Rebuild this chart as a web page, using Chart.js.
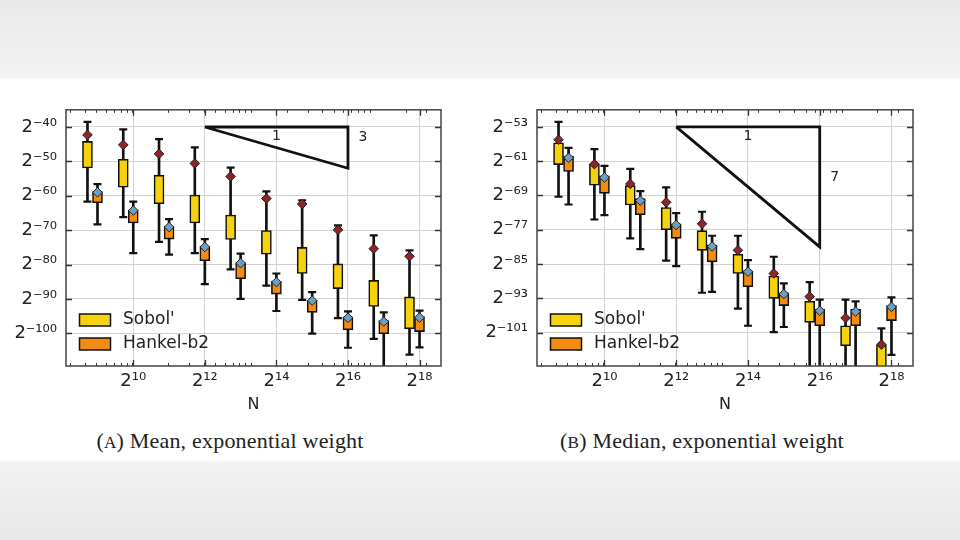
<!DOCTYPE html>
<html>
<head>
<meta charset="utf-8">
<script src="https://cdn.jsdelivr.net/npm/chart.js@4.4.1/dist/chart.umd.min.js"></script>
<style>
  html, body { margin: 0; padding: 0; }
  body {
    width: 960px; height: 540px; position: relative; overflow: hidden;
    background: linear-gradient(to bottom, #e9e9e9 0px, #f3f3f3 78px, #ffffff 80px, #ffffff 460px, #f2f2f2 462px, #e8e8e8 540px);
  }
  .panel { position: absolute; top: 90px; width: 480px; height: 330px; }
  .caption {
    position: absolute; top: 428px; width: 480px; text-align: center;
    font-family: "Liberation Serif", serif; font-size: 22px; letter-spacing: 0.2px; color: #222;
  }
  .caption .sc { font-size: 0.78em; }
</style>
</head>
<body>
<div class="panel" style="left:0px"><canvas id="meanChart"></canvas></div>
<div class="panel" style="left:480px"><canvas id="medianChart"></canvas></div>
<div class="caption" style="left:-10px">(<span class="sc">A</span>) Mean, exponential weight</div>
<div class="caption" style="left:462px">(<span class="sc">B</span>) Median, exponential weight</div>

<script>
// log2(N) for each box pair
const exps = [9, 10, 11, 12, 13, 14, 15, 16, 17, 18];
const seriesNames = ["Sobol'", 'Hankel-b2'];
const xTicks = [10, 12, 14, 16, 18];

// (A) mean -- values are log2 of the error
const meanTicks = [-40, -50, -60, -70, -80, -90, -100];
const meanSobolHi   = [-38.5, -40.7, -43.5, -45.9, -51.8, -58.7, -61.3, -68.6, -71.5, -75.9];
const meanSobolQ3   = [-44.2, -49.4, -54.0, -59.8, -65.6, -70.1, -75.0, -79.8, -84.6, -89.4];
const meanSobolQ1   = [-51.9, -57.5, -62.3, -67.9, -72.7, -77.0, -82.6, -87.0, -92.2, -98.7];
const meanSobolLo   = [-61.7, -66.2, -73.4, -76.7, -81.4, -86.1, -90.3, -95.6, -101.6, -106.2];
const meanSobolAvg  = [-42.3, -45.2, -47.8, -50.6, -54.4, -60.8, -62.4, -69.9, -75.4, -77.6];
const meanHankelHi  = [-56.6, -61.7, -66.8, -72.6, -76.8, -82.6, -88.0, -93.6, -93.9, -93.4];
const meanHankelQ3  = [-58.8, -64.1, -68.9, -74.7, -79.4, -84.9, -90.3, -95.2, -96.3, -95.1];
const meanHankelQ1  = [-62.0, -67.9, -72.6, -78.9, -84.1, -88.6, -93.9, -99.0, -100.1, -99.5];
const meanHankelLo  = [-68.3, -76.7, -77.1, -85.7, -90.0, -93.5, -100.1, -104.2, -112.0, -104.1];
const meanHankelAvg = [-59.0, -64.3, -69.1, -74.9, -79.6, -85.1, -90.5, -95.5, -96.6, -95.4];
const meanSlopeX = [12, 16, 16, 12];
const meanSlopeY = [-40, -40, -52, -40];
const meanSlopeText = ['1', '3'];

// (B) median
const medTicks = [-53, -61, -69, -77, -85, -93, -101];
const medSobolHi   = [-51.8, -58.2, -62.8, -67.1, -72.8, -78.4, -83.3, -89.2, -93.3, -100.0];
const medSobolQ3   = [-56.7, -61.6, -66.7, -71.8, -77.2, -82.7, -87.8, -93.7, -99.4, -103.9];
const medSobolQ1   = [-61.8, -66.6, -71.2, -77.0, -81.8, -87.2, -93.0, -98.6, -104.1, -110.5];
const medSobolLo   = [-69.3, -74.6, -79.0, -84.2, -91.7, -95.4, -100.9, -112.0, -112.0, -115.0];
const medSobolAvg  = [-56.0, -61.7, -66.3, -70.6, -75.6, -81.8, -87.2, -92.6, -97.6, -103.8];
const medHankelHi  = [-57.9, -62.1, -68.0, -73.1, -78.4, -84.1, -89.5, -93.3, -93.7, -92.8];
const medHankelQ3  = [-59.8, -64.4, -69.7, -75.6, -80.6, -86.6, -91.7, -95.6, -95.6, -94.7];
const medHankelQ1  = [-63.4, -68.5, -73.5, -79.0, -84.5, -90.3, -94.7, -99.4, -99.4, -98.2];
const medHankelLo  = [-71.1, -73.6, -81.5, -85.5, -91.5, -99.4, -99.7, -112.0, -112.0, -106.2];
const medHankelAvg = [-60.2, -64.8, -70.2, -75.9, -80.9, -86.8, -92.0, -95.9, -96.1, -95.0];
const medSlopeX = [12, 16, 16, 12];
const medSlopeY = [-53, -53, -81, -53];
const medSlopeText = ['1', '7'];

const SUP = { '-': '\u207B', '0': '\u2070', '1': '\u00B9', '2': '\u00B2', '3': '\u00B3', '4': '\u2074',
              '5': '\u2075', '6': '\u2076', '7': '\u2077', '8': '\u2078', '9': '\u2079' };
const pow2 = v => '2' + String(v).split('').map(c => SUP[c]).join('');

const FONT = 'DejaVu Sans';
const colors = [
  { box: '#f6d20c', mean: '#8e2424' },
  { box: '#f38c10', mean: '#6b9fc6' }
];
const dodge = [-0.28, 0];

// frame, inward ticks, minor ticks on N axis, slope labels and legend
const decorations = {
  id: 'decorations',
  afterDatasetsDraw(chart, args, opts) {
    const { ctx, chartArea: a, scales: { x, y } } = chart;
    ctx.save();
    ctx.strokeStyle = '#333';
    ctx.lineWidth = 1;
    // minor ticks: matplotlib puts them at m*10^p on a log axis
    for (let p = 2; p <= 5; p++) {
      for (let m = 1; m <= 9; m++) {
        const v = Math.log2(m * Math.pow(10, p));
        if (v < x.min || v > x.max) continue;
        const px = Math.round(x.getPixelForValue(v)) + 0.5;
        ctx.beginPath();
        ctx.moveTo(px, a.bottom); ctx.lineTo(px, a.bottom - 3);
        ctx.moveTo(px, a.top); ctx.lineTo(px, a.top + 3);
        ctx.stroke();
      }
    }
    ctx.lineWidth = 1.3;
    xTicks.forEach(v => {
      const px = Math.round(x.getPixelForValue(v)) + 0.5;
      ctx.beginPath();
      ctx.moveTo(px, a.bottom); ctx.lineTo(px, a.bottom - 6);
      ctx.moveTo(px, a.top); ctx.lineTo(px, a.top + 6);
      ctx.stroke();
    });
    opts.yTicks.forEach(v => {
      const py = Math.round(y.getPixelForValue(v)) + 0.5;
      ctx.beginPath();
      ctx.moveTo(a.left, py); ctx.lineTo(a.left + 6, py);
      ctx.moveTo(a.right, py); ctx.lineTo(a.right - 6, py);
      ctx.stroke();
    });
    ctx.lineWidth = 1.5;
    ctx.strokeStyle = '#444';
    ctx.strokeRect(a.left, a.top, a.right - a.left, a.bottom - a.top);

    // slope triangle labels
    const sx = opts.slopeX, sy = opts.slopeY;
    ctx.fillStyle = '#222';
    ctx.font = '14px "' + FONT + '"';
    ctx.textAlign = 'center';
    ctx.textBaseline = 'middle';
    const midX = (sx[0] + sx[1]) / 2;
    ctx.fillText(opts.slopeText[0], x.getPixelForValue(midX), y.getPixelForValue(sy[0]) + 9);
    ctx.fillText(opts.slopeText[1], x.getPixelForValue(sx[1]) + 15, y.getPixelForValue((sy[1] + sy[2]) / 2) - 10);

    // legend, lower left inside the axes
    ctx.font = '17px "' + FONT + '"';
    ctx.textAlign = 'left';
    seriesNames.forEach((name, i) => {
      const top = a.bottom - 52 + i * 24;
      ctx.fillStyle = colors[i].box;
      ctx.fillRect(a.left + 13.5, top, 31, 12);
      ctx.strokeStyle = '#111';
      ctx.lineWidth = 1.5;
      ctx.strokeRect(a.left + 13.5, top, 31, 12);
      ctx.fillStyle = '#222';
      ctx.fillText(name, a.left + 57, top + 6);
    });
    ctx.restore();
  }
};

function boxDatasets(hi, q3, q1, lo, avg, s) {
  const pos = exps.map(k => k + dodge[s]);
  return [
    { type: 'bar', label: seriesNames[s] + ' whisker', grouped: false, order: 5, clip: 0,
      data: pos.map((p, i) => ({ x: p, y: [lo[i], hi[i]] })),
      backgroundColor: '#111', barThickness: 2, borderWidth: 0 },
    { type: 'scatter', label: seriesNames[s] + ' caps', order: 5, clip: 0,
      data: pos.flatMap((p, i) => [{ x: p, y: hi[i] }, { x: p, y: lo[i] }]),
      pointStyle: 'line', pointRadius: 4, borderColor: '#111', borderWidth: 2.2 },
    { type: 'bar', label: seriesNames[s], grouped: false, order: 3, clip: 0,
      data: pos.map((p, i) => ({ x: p, y: [q1[i], q3[i]] })),
      backgroundColor: colors[s].box, borderColor: '#111', borderWidth: 1.6,
      borderSkipped: false, barThickness: 10 },
    { type: 'scatter', label: seriesNames[s] + ' mean', order: 1, clip: 0,
      data: pos.map((p, i) => ({ x: p, y: avg[i] })),
      pointStyle: 'rectRot', pointRadius: 4.8, backgroundColor: colors[s].mean,
      borderColor: '#222', borderWidth: 1 }
  ];
}

function renderPanel(canvasId, cfg) {
  const ctx = document.getElementById(canvasId).getContext('2d');
  new Chart(ctx, {
    type: 'bar',
    data: {
      datasets: [
        ...boxDatasets(...cfg.sobol, 0),
        ...boxDatasets(...cfg.hankel, 1),
        { type: 'line', label: 'slope', order: 2, clip: 0,
          data: cfg.slopeX.map((v, i) => ({ x: v, y: cfg.slopeY[i] })),
          borderColor: '#111', borderWidth: 2.8, pointRadius: 0, fill: false }
      ]
    },
    options: {
      responsive: true,
      maintainAspectRatio: false,
      animation: false,
      layout: { padding: { top: 10, right: cfg.padRight, left: 0, bottom: 0 } },
      plugins: {
        legend: { display: false },
        tooltip: { enabled: false },
        decorations: { yTicks: cfg.yTicks, slopeX: cfg.slopeX, slopeY: cfg.slopeY, slopeText: cfg.slopeText }
      },
      scales: {
        x: {
          type: 'linear', min: 8.12, max: 18.6, offset: false,
          grid: { color: '#d2d2d2', lineWidth: 1, drawTicks: false, offset: false },
          border: { display: false },
          afterBuildTicks: s => { s.ticks = xTicks.map(v => ({ value: v })); },
          afterFit: s => { s.height = 54; },
          ticks: { callback: v => pow2(v), font: { family: FONT, size: 18 }, color: '#222',
                   padding: 5, maxRotation: 0, autoSkip: false },
          title: { display: true, text: 'N', font: { family: FONT, size: 16 }, color: '#222',
                   padding: { top: 4, bottom: 6 } }
        },
        y: {
          type: 'linear', min: cfg.yMin, max: cfg.yMax,
          grid: { color: '#d2d2d2', lineWidth: 1, drawTicks: false },
          border: { display: false },
          afterBuildTicks: s => { s.ticks = cfg.yTicks.map(v => ({ value: v })); },
          afterFit: s => { s.width = cfg.yWidth; },
          ticks: { callback: v => pow2(v), font: { family: FONT, size: 18 }, color: '#222', padding: 9 }
        }
      }
    },
    plugins: [decorations]
  });
}

renderPanel('meanChart', {
  sobol: [meanSobolHi, meanSobolQ3, meanSobolQ1, meanSobolLo, meanSobolAvg],
  hankel: [meanHankelHi, meanHankelQ3, meanHankelQ1, meanHankelLo, meanHankelAvg],
  yTicks: meanTicks, yMin: -109.5, yMax: -35, yWidth: 66, padRight: 39,
  slopeX: meanSlopeX, slopeY: meanSlopeY, slopeText: meanSlopeText
});

renderPanel('medianChart', {
  sobol: [medSobolHi, medSobolQ3, medSobolQ1, medSobolLo, medSobolAvg],
  hankel: [medHankelHi, medHankelQ3, medHankelQ1, medHankelLo, medHankelAvg],
  yTicks: medTicks, yMin: -108.8, yMax: -49, yWidth: 57, padRight: 47,
  slopeX: medSlopeX, slopeY: medSlopeY, slopeText: medSlopeText
});
</script>
</body>
</html>
